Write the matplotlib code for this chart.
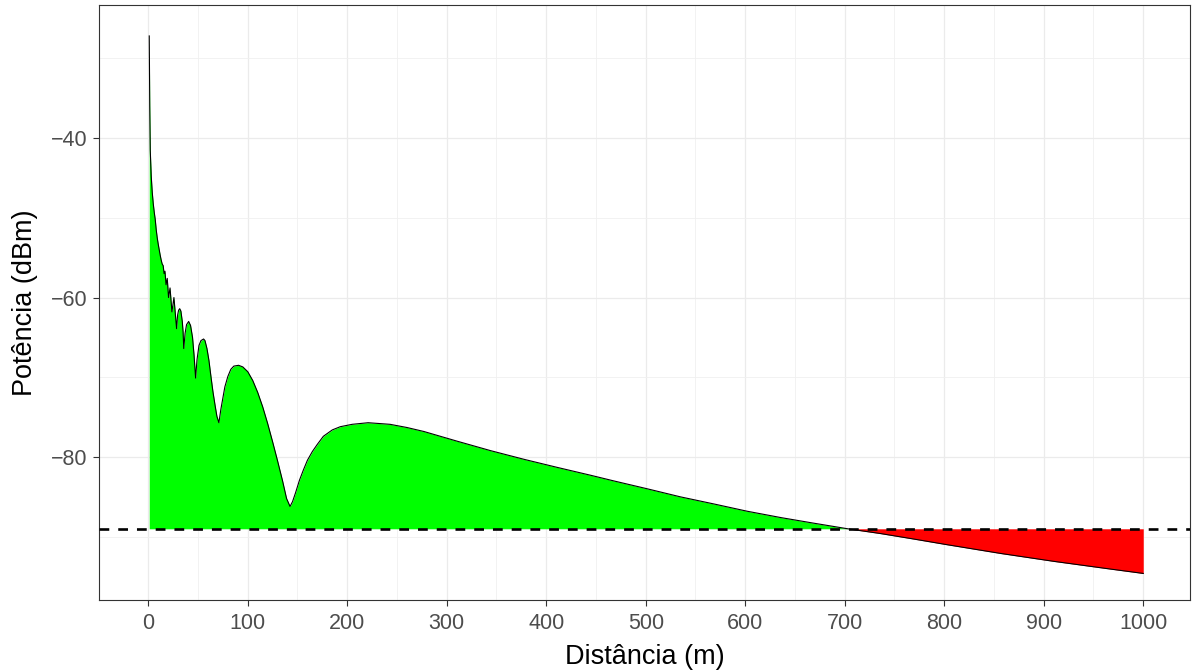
import matplotlib
matplotlib.use("Agg")
import matplotlib.pyplot as plt
import numpy as np

# distance (m) and received power (dBm)
distancia = [1, 1.5, 2, 3, 4, 5, 6, 7, 8, 9, 10, 11, 12, 13, 14, 15.0, 15.9, 16.8,
             17.9, 19.1, 20.4, 21.9, 23.8, 25.8, 28.5, 29.5, 30.5, 31.6, 32.8, 34.2,
             35.0, 35.7, 37.0, 38.5, 40.6, 42.5, 44.5, 46.0, 47.6, 49.0, 51.0, 53.0,
             55.6, 57.0, 59.0, 61.0, 63.0, 65.0, 67.0, 69.0, 71.0, 73.0, 75.0, 77.0,
             80.0, 83.0, 86.0, 90.8, 95.0, 100.0, 105.0, 110.0, 115.0, 120.0, 125.0,
             130.0, 135.0, 139.0, 142.5, 145.0, 148.0, 152.0, 156.0, 160.0, 165.0,
             170.0, 176.0, 185.0, 193.0, 205.0, 221.0, 243.0, 260.0, 277.0, 310.0,
             344.0, 378.0, 411.0, 445.0, 468.0, 502.0, 535.0, 569.0, 602.0, 636.0,
             669.0, 703.0, 736.0, 770.0, 803.0, 857.0, 911.0, 964.0, 1000.0]
potencia = [-27.2, -36.0, -41.5, -44.8, -46.8, -48.2, -49.3, -50.2, -51.5, -52.5, -53.3,
            -54.0, -54.7, -55.3, -55.8, -56.0, -57.0, -56.7, -58.4, -57.6, -60.0, -58.8,
            -61.8, -60.0, -63.9, -62.2, -61.6, -61.4, -61.7, -63.0, -64.3, -66.4, -64.5,
            -63.4, -63.0, -63.5, -65.0, -67.2, -70.1, -67.8, -66.0, -65.4, -65.2, -65.4,
            -66.4, -67.9, -69.9, -71.8, -73.4, -74.9, -75.7, -74.0, -72.6, -71.2, -69.9,
            -69.0, -68.6, -68.5, -68.7, -69.3, -70.4, -71.9, -73.7, -75.8, -78.1, -80.5,
            -83.0, -85.2, -86.2, -85.6, -84.5, -82.9, -81.6, -80.4, -79.3, -78.4, -77.4,
            -76.6, -76.2, -75.9, -75.7, -75.9, -76.3, -76.8, -78.0, -79.2, -80.3, -81.3,
            -82.3, -83.0, -84.0, -85.0, -85.9, -86.8, -87.6, -88.3, -89.0, -89.6, -90.3,
            -91.0, -92.1, -93.1, -94.0, -94.6]
limiar = -89.0
x_ticks = [0, 100, 200, 300, 400, 500, 600, 700, 800, 900, 1000]
y_ticks = [-40, -60, -80]

d = np.array(distancia)
p = np.array(potencia)

plt.rcParams['font.family'] = ['Liberation Sans', 'DejaVu Sans']
fig = plt.figure(figsize=(11.92, 6.71), dpi=100)
ax = fig.add_axes([99/1192, 1-600/671, (1190-99)/1192, (600-5)/671])

ax.set_xlim(-49.5, 1047)
ax.set_ylim(-97.93, -23.32)

# grid
ax.set_xticks(x_ticks)
ax.set_yticks(y_ticks)
ax.set_xticks([50, 150, 250, 350, 450, 550, 650, 750, 850, 950], minor=True)
ax.set_yticks([-30, -50, -70, -90], minor=True)
ax.grid(True, which='major', color='#EBEBEB', linewidth=0.9)
ax.grid(True, which='minor', color='#F0F0F0', linewidth=0.6)
ax.set_axisbelow(True)

ax.fill_between(d, p, limiar, where=p >= limiar, interpolate=True,
                color='#00FF00', linewidth=0, zorder=2)
ax.fill_between(d, p, limiar, where=p <= limiar, interpolate=True,
                color='#FF0000', linewidth=0, zorder=2)
ax.plot(d, p, color='black', linewidth=0.8, zorder=3)
ax.axhline(limiar, color='black', linewidth=1.9, dashes=(3.7, 3.4), zorder=4)

for s in ax.spines.values():
    s.set_color('#333333')
    s.set_linewidth(0.8)

ax.tick_params(which='major', length=4.4, width=0.8, color='#333333',
               labelcolor='#4D4D4D', labelsize=15.5, pad=4)
ax.tick_params(axis='x', which='major', pad=5)
ax.tick_params(which='minor', length=0)
ax.set_yticklabels(['\u221240', '\u221260', '\u221280'])

ax.set_xlabel('Distância (m)', fontsize=19.5, color='black', labelpad=7)
ax.set_ylabel('Potência (dBm)', fontsize=19.5, color='black', labelpad=9)

fig.savefig('out.png', dpi=100)
